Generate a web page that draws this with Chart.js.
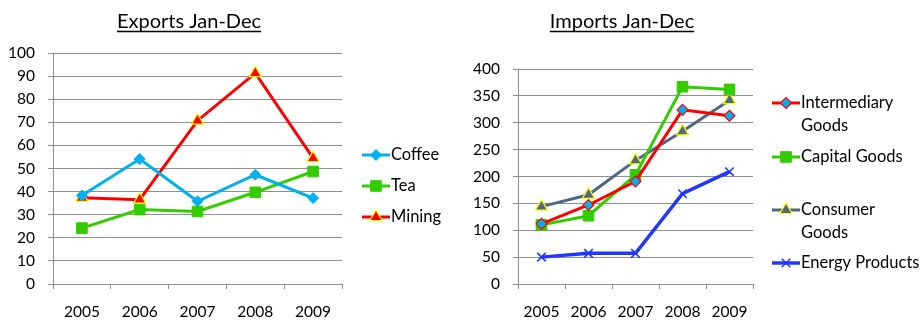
<!DOCTYPE html>
<html>
<head>
<meta charset="utf-8">
<script src="https://cdn.jsdelivr.net/npm/chart.js@4/dist/chart.umd.min.js"></script>
<style>
  html, body { margin: 0; padding: 0; background: #fff; }
  #wrap { position: relative; width: 924px; height: 323px; }
  canvas { position: absolute; top: 0; }
</style>
</head>
<body>
<div id="wrap">
  <canvas id="exports" width="460" height="323" style="left:0"></canvas>
  <canvas id="imports" width="464" height="323" style="left:460px"></canvas>
</div>
<script>
// Category axis
const years = ['2005', '2006', '2007', '2008', '2009'];

// Exports (left chart)
const coffee = [38.3, 54.1, 35.8, 47.3, 37.2];
const tea    = [24.2, 32.2, 31.4, 39.7, 48.7];
const mining = [37.3, 36.5, 70.7, 91.3, 54.5];

// Imports (right chart)
const intermediaryGoods = [112, 147, 191, 324, 313];
const capitalGoods      = [110, 127, 203, 367, 362];
const consumerGoods     = [144, 166, 230, 284, 342];
const energyProducts    = [50, 57, 57, 168, 209];

// Titles and legend labels
const exportsTitle = 'Exports Jan-Dec';
const importsTitle = 'Imports Jan-Dec';
const exportsLabels = [['Coffee'], ['Tea'], ['Mining']];
const importsLabels = [['Intermediary', 'Goods'], ['Capital Goods'], ['Consumer', 'Goods'], ['Energy Products']];

const FONT = 'Lato, "Open Sans", sans-serif';
const GRID = '#8f8f8f';

// Draws the underlined title and a legend beside the plot
const sideLegend = {
  id: 'sideLegend',
  afterDraw(chart, args, opts) {
    const ctx = chart.ctx;
    ctx.save();
    // title
    ctx.font = `${opts.titleSize}px ${FONT}`;
    ctx.fillStyle = '#000';
    ctx.textAlign = 'center';
    ctx.textBaseline = 'alphabetic';
    ctx.fillText(opts.title, opts.titleX, opts.titleY);
    const w = ctx.measureText(opts.title).width;
    ctx.strokeStyle = '#000';
    ctx.lineWidth = 1.4;
    ctx.beginPath();
    ctx.moveTo(opts.titleX - w / 2, opts.titleY + 3.5);
    ctx.lineTo(opts.titleX + w / 2, opts.titleY + 3.5);
    ctx.stroke();

    // legend entries
    ctx.font = `${opts.fontSize}px ${FONT}`;
    ctx.textAlign = 'left';
    ctx.textBaseline = 'middle';
    opts.items.forEach((item, i) => {
      const ds = chart.data.datasets[i];
      const y = item.y;
      ctx.strokeStyle = ds.borderColor;
      ctx.lineWidth = ds.borderWidth;
      ctx.beginPath();
      ctx.moveTo(opts.x, y);
      ctx.lineTo(opts.x + 28, y);
      ctx.stroke();
      ctx.fillStyle = ds.pointBackgroundColor;
      ctx.strokeStyle = ds.pointBorderColor;
      ctx.lineWidth = ds.pointBorderWidth;
      Chart.helpers.drawPoint(ctx, {
        pointStyle: ds.pointStyle,
        radius: ds.pointRadius,
        borderWidth: ds.pointBorderWidth,
        rotation: 0
      }, opts.x + 14, y);
      ctx.fillStyle = '#000';
      item.lines.forEach((ln, k) => {
        ctx.fillText(ln, opts.x + 29, y + k * opts.lineGap);
      });
    });
    ctx.restore();
  }
};

function series(label, data, color, style, radius, fill, border, bw, lw) {
  return {
    label, data,
    borderColor: color,
    borderWidth: lw || 3,
    pointStyle: style,
    pointRadius: radius,
    pointHoverRadius: radius,
    pointBackgroundColor: fill,
    pointBorderColor: border,
    pointBorderWidth: bw,
    tension: 0,
    fill: false
  };
}

function scales(max, step, yWidth) {
  return {
    x: {
      type: 'category',
      offset: true,
      grid: { offset: true, drawOnChartArea: false, drawTicks: true, tickLength: 5, color: GRID },
      border: { color: GRID, width: 1 },
      ticks: { color: '#000', font: { family: FONT, size: 15.5 }, padding: 14, maxRotation: 0 },
      afterFit(s) { s.height = 39; }
    },
    y: {
      min: 0, max: max,
      grid: { color: GRID, tickLength: 5, lineWidth: 1 },
      border: { color: GRID, width: 1 },
      ticks: { stepSize: step, color: '#000', font: { family: FONT, size: 15.5 }, padding: 13 },
      afterFit(s) { s.width = yWidth; }
    }
  };
}

new Chart(document.getElementById('exports'), {
  type: 'line',
  data: {
    labels: years,
    datasets: [
      series('Coffee', coffee, '#00B0F0', 'rectRot', 5.5, '#00B0F0', '#00B0F0', 1),
      series('Tea', tea, '#33CC00', 'rect', 7.5, '#33CC00', '#33CC00', 1),
      series('Mining', mining, '#FF0000', 'triangle', 7, '#FF0000', '#FFFF00', 1.2)
    ]
  },
  options: {
    responsive: false,
    animation: false,
    layout: { padding: { left: 0, top: 53, right: 118, bottom: 0 } },
    plugins: {
      legend: { display: false },
      tooltip: { enabled: false },
      sideLegend: {
        title: exportsTitle, titleX: 189, titleY: 28, titleSize: 20,
        x: 362, fontSize: 16.5, lineGap: 23,
        items: [
          { lines: exportsLabels[0], y: 155 },
          { lines: exportsLabels[1], y: 186 },
          { lines: exportsLabels[2], y: 217 }
        ]
      }
    },
    scales: scales(100, 10, 53)
  },
  plugins: [sideLegend]
});

new Chart(document.getElementById('imports'), {
  type: 'line',
  data: {
    labels: years,
    datasets: [
      series('Intermediary Goods', intermediaryGoods, '#FF0000', 'rectRot', 5.5, '#00B0F0', '#FF0000', 1.2),
      series('Capital Goods', capitalGoods, '#33CC00', 'rect', 7.5, '#33CC00', '#33CC00', 1),
      series('Consumer Goods', consumerGoods, '#4F6A80', 'triangle', 7, '#4F6A80', '#FFFF00', 1.2),
      series('Energy Products', energyProducts, '#1F37FF', 'crossRot', 6, '#1F37FF', '#1F37FF', 1.5, 3.5)
    ]
  },
  options: {
    responsive: false,
    animation: false,
    layout: { padding: { left: 0, top: 69, right: 171, bottom: 0 } },
    plugins: {
      legend: { display: false },
      tooltip: { enabled: false },
      sideLegend: {
        title: importsTitle, titleX: 162, titleY: 28, titleSize: 20,
        x: 312, fontSize: 16.5, lineGap: 23,
        items: [
          { lines: importsLabels[0], y: 103 },
          { lines: importsLabels[1], y: 157 },
          { lines: importsLabels[2], y: 210 },
          { lines: importsLabels[3], y: 263 }
        ]
      }
    },
    scales: scales(400, 50, 58)
  },
  plugins: [sideLegend]
});
</script>
</body>
</html>
